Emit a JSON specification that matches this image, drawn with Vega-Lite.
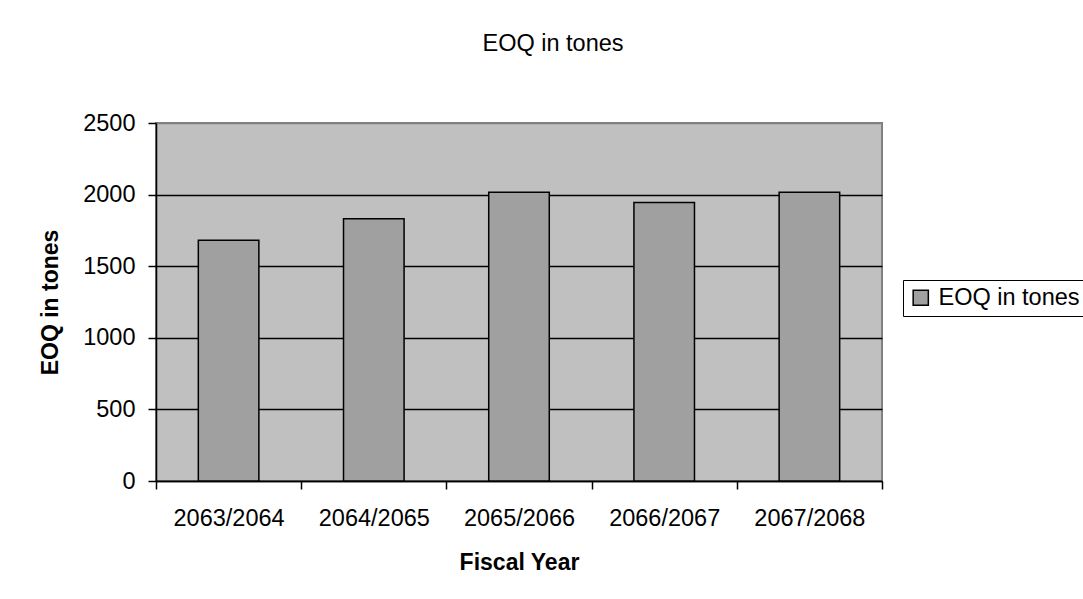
{
  "$schema": "https://vega.github.io/schema/vega-lite/v6.json",
  "width": 726,
  "height": 358,
  "autosize": {"type": "none"},
  "padding": {"left": 156, "top": 123, "right": 201, "bottom": 118},
  "background": "white",
  "title": {
    "text": "EOQ in tones",
    "font": "Liberation Sans",
    "fontSize": 23.5,
    "fontWeight": "normal",
    "color": "black",
    "anchor": "middle",
    "frame": "group",
    "dx": 34,
    "baseline": "alphabetic",
    "offset": 37
  },
  "data": {
    "values": [
      {"year": "2063/2064", "eoq": 1681, "series": "EOQ in tones"},
      {"year": "2064/2065", "eoq": 1832, "series": "EOQ in tones"},
      {"year": "2065/2066", "eoq": 2016, "series": "EOQ in tones"},
      {"year": "2066/2067", "eoq": 1944, "series": "EOQ in tones"},
      {"year": "2067/2068", "eoq": 2016, "series": "EOQ in tones"}
    ]
  },
  "mark": {
    "type": "bar",
    "width": {"band": 0.417},
    "stroke": "black",
    "strokeWidth": 1.5
  },
  "encoding": {
    "x": {
      "field": "year",
      "type": "nominal",
      "sort": null,
      "scale": {"paddingInner": 0, "paddingOuter": 0},
      "axis": {
        "title": "Fiscal Year",
        "titleFont": "Liberation Sans",
        "titleFontSize": 23,
        "titleFontWeight": "bold",
        "titleColor": "black",
        "titlePadding": 22,
        "labelFont": "Liberation Sans",
        "labelFontSize": 23.5,
        "labelColor": "black",
        "labelAngle": 0,
        "labelPadding": 17,
        "tickBand": "extent",
        "tickColor": "black",
        "tickSize": 8,
        "tickWidth": 1.5,
        "domainColor": "black",
        "domainWidth": 1.5,
        "grid": false
      }
    },
    "y": {
      "field": "eoq",
      "type": "quantitative",
      "scale": {"domain": [0, 2500], "nice": false},
      "axis": {
        "title": "EOQ in tones",
        "titleFont": "Liberation Sans",
        "titleFontSize": 23,
        "titleFontWeight": "bold",
        "titleColor": "black",
        "titlePadding": 20,
        "values": [0, 500, 1000, 1500, 2000, 2500],
        "format": "d",
        "labelFont": "Liberation Sans",
        "labelFontSize": 23.5,
        "labelColor": "black",
        "labelPadding": 13,
        "tickColor": "black",
        "tickSize": 8,
        "tickWidth": 1.5,
        "domainColor": "black",
        "domainWidth": 1.5,
        "grid": true,
        "gridColor": {"condition": {"test": "datum.value === 2500", "value": "#808080"}, "value": "black"},
        "gridWidth": 1.5,
        "gridOpacity": 1
      }
    },
    "color": {
      "field": "series",
      "type": "nominal",
      "scale": {"range": ["#a0a0a0"]},
      "legend": {
        "title": null,
        "orient": "none",
        "legendX": 747,
        "legendY": 157,
        "symbolType": "square",
        "symbolSize": 230,
        "symbolStrokeColor": "black",
        "symbolStrokeWidth": 1.5,
        "symbolOpacity": 1,
        "labelFont": "Liberation Sans",
        "labelFontSize": 23.5,
        "labelColor": "black",
        "labelOffset": 6,
        "strokeColor": "black",
        "fillColor": "white",
        "padding": 6
      }
    }
  },
  "config": {
    "view": {"fill": "#c0c0c0", "stroke": "#808080", "strokeWidth": 2}
  }
}
